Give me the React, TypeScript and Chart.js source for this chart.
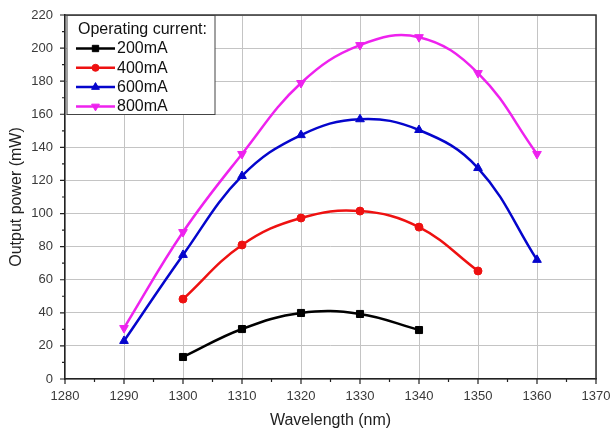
import Chart, { Plugin } from 'chart.js/auto';
import { drawPoint } from 'chart.js/helpers';
import { useEffect, useRef } from 'react';

// Wavelength in nm, output power in mW; null where no measurement
const wavelengths = [1290, 1300, 1310, 1320, 1330, 1340, 1350, 1360];
const power200 = [null, 13.3, 30.2, 39.9, 39.3, 29.6, null, null];
const power400 = [null, 48.3, 81, 97.3, 101.5, 91.8, 65.3, null];
const power600 = [23, 75, 122.7, 147.4, 157, 150.5, 127.5, 72];
const power800 = [30.8, 88.8, 136, 178.9, 201.8, 206.6, 184.9, 136];

const seriesLabels = ['200mA', '400mA', '600mA', '800mA'];
const seriesColors = ['#000000', '#ee1111', '#0505cc', '#ee22ee'];
const seriesPoints = ['rect', 'circle', 'triangle', 'triangle'];
const seriesRotation = [0, 0, 0, 180];
const seriesRadius = [5, 4, 5, 5];

const legendTitle = 'Operating current:';
const FONT = '"Liberation Sans", Arial, sans-serif';

function toPoints(values: (number | null)[]) {
  return wavelengths
    .map((x, i) => ({ x, y: values[i] }))
    .filter((p) => p.y !== null) as { x: number; y: number }[];
}

const decorations: Plugin<'line'> = {
  id: 'decorations',
  afterDraw(chart) {
    const { ctx, chartArea } = chart;
    const xs = chart.scales.x;
    const ys = chart.scales.y;
    ctx.save();

    // frame on top and right
    ctx.strokeStyle = '#333';
    ctx.lineWidth = 1.5;
    ctx.beginPath();
    ctx.moveTo(chartArea.left, chartArea.top);
    ctx.lineTo(chartArea.right, chartArea.top);
    ctx.lineTo(chartArea.right, chartArea.bottom);
    ctx.stroke();

    // tick marks, pointing outward
    ctx.strokeStyle = '#222';
    ctx.lineWidth = 1.2;
    ctx.beginPath();
    for (let v = 1280; v <= 1370; v += 5) {
      const px = xs.getPixelForValue(v);
      const len = v % 10 === 0 ? 5 : 3;
      ctx.moveTo(px, chartArea.bottom);
      ctx.lineTo(px, chartArea.bottom + len);
    }
    for (let v = 0; v <= 220; v += 10) {
      const py = ys.getPixelForValue(v);
      const len = v % 20 === 0 ? 5 : 3;
      ctx.moveTo(chartArea.left, py);
      ctx.lineTo(chartArea.left - len, py);
    }
    ctx.stroke();

    // legend box
    const bx = chartArea.left + 2;
    const by = chartArea.top + 0.5;
    const bw = 148;
    const bh = 99;
    ctx.fillStyle = '#fff';
    ctx.fillRect(bx, by, bw, bh);
    ctx.strokeStyle = '#444';
    ctx.lineWidth = 1;
    ctx.strokeRect(bx, by, bw, bh);

    ctx.font = `16px ${FONT}`;
    ctx.fillStyle = '#111';
    ctx.textBaseline = 'middle';
    ctx.textAlign = 'left';
    ctx.fillText(legendTitle, bx + 11, by + 14);

    chart.data.datasets.forEach((ds, i) => {
      const cy = by + 33 + i * 19.3;
      const color = seriesColors[i];
      ctx.strokeStyle = color;
      ctx.lineWidth = 2.5;
      ctx.beginPath();
      ctx.moveTo(bx + 9, cy);
      ctx.lineTo(bx + 48, cy);
      ctx.stroke();
      ctx.fillStyle = color;
      ctx.lineWidth = 1;
      drawPoint(
        ctx,
        {
          pointStyle: seriesPoints[i] as any,
          rotation: seriesRotation[i],
          radius: seriesRadius[i] - 0.5,
          borderWidth: 1,
        },
        bx + 28.5,
        cy,
      );
      ctx.fillStyle = '#111';
      ctx.fillText(String(ds.label), bx + 50, cy + 0.5);
    });

    ctx.restore();
  },
};

export default function App() {
  const canvasRef = useRef<HTMLCanvasElement | null>(null);

  useEffect(() => {
    document.body.style.margin = '0';
    const allSeries = [power200, power400, power600, power800];
    const chart = new Chart(canvasRef.current!, {
      type: 'line',
      data: {
        datasets: allSeries.map((values, i) => ({
          label: seriesLabels[i],
          data: toPoints(values),
          borderColor: seriesColors[i],
          backgroundColor: seriesColors[i],
          borderWidth: 2.5,
          tension: 0.4,
          pointStyle: seriesPoints[i] as any,
          pointRotation: seriesRotation[i],
          pointRadius: seriesRadius[i],
          pointBorderWidth: 1,
        })),
      },
      options: {
        animation: false,
        responsive: true,
        maintainAspectRatio: false,
        layout: { padding: { top: 15, right: 0, left: 0, bottom: 0 } },
        plugins: {
          legend: { display: false },
          tooltip: { enabled: false },
        },
        scales: {
          x: {
            type: 'linear',
            min: 1280,
            max: 1370,
            ticks: {
              stepSize: 10,
              padding: 10,
              color: '#3a3a3a',
              font: { family: FONT, size: 13 },
              callback: (v) => String(v),
            },
            grid: { color: '#c4c4c4', lineWidth: 1, drawTicks: false },
            border: { color: '#222', width: 1.5 },
            title: {
              display: true,
              text: 'Wavelength (nm)',
              color: '#222',
              font: { family: FONT, size: 16 },
              padding: { top: 0, bottom: 0 },
            },
            afterFit(scale) {
              scale.height = 51;
              scale.paddingRight = 16;
              scale.paddingLeft = 0;
            },
          },
          y: {
            min: 0,
            max: 220,
            ticks: {
              stepSize: 20,
              padding: 12,
              color: '#3a3a3a',
              font: { family: FONT, size: 13 },
            },
            grid: { color: '#c4c4c4', lineWidth: 1, drawTicks: false },
            border: { color: '#222', width: 1.5 },
            title: {
              display: true,
              text: 'Output power (mW)',
              color: '#222',
              font: { family: FONT, size: 16 },
              padding: { top: 7, bottom: 0 },
            },
            afterFit(scale) {
              scale.width = 65;
              scale.paddingTop = 0;
              scale.paddingBottom = 0;
            },
          },
        },
      },
      plugins: [decorations],
    });
    return () => chart.destroy();
  }, []);

  return (
    <div style={{ width: 612, height: 430, position: 'relative', background: '#fff' }}>
      <canvas ref={canvasRef}></canvas>
    </div>
  );
}
